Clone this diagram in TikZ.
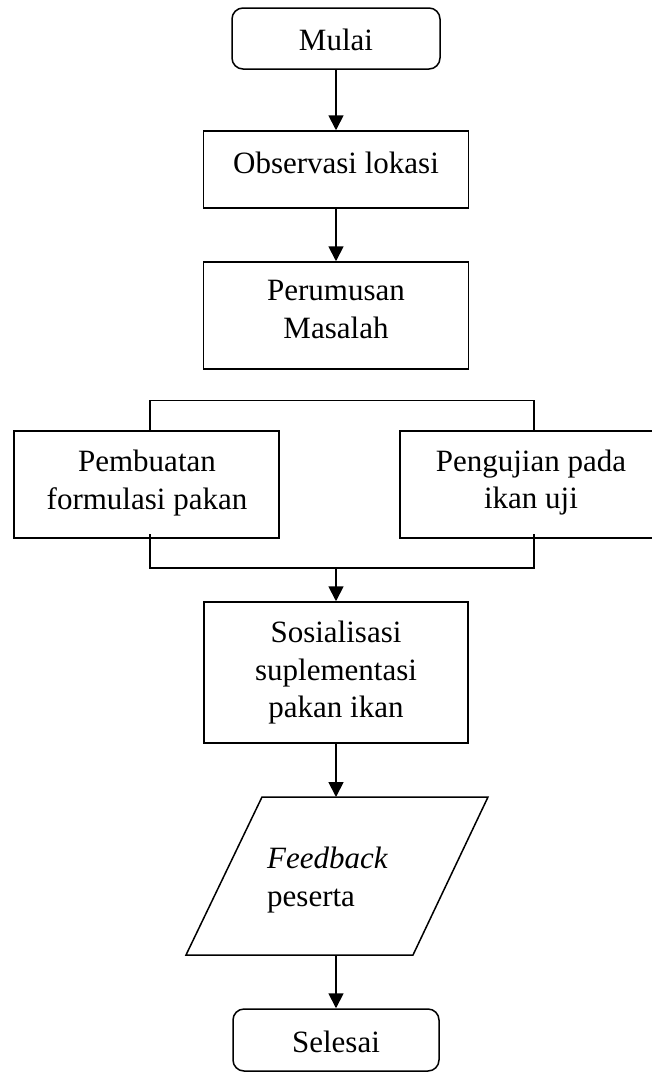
\documentclass[tikz,border=0pt]{standalone}
\usepackage{fontspec}
\setmainfont{Liberation Serif}
\usetikzlibrary{arrows.meta}
\begin{document}
\begin{tikzpicture}[x=1pt,y=-1pt,
  box/.style={draw, line width=1.5pt, inner sep=0pt, minimum width=265pt},
  term/.style={draw, line width=1.5pt, inner sep=0pt, rounded corners=11pt},
  txt/.style={anchor=base, inner sep=0pt, font=\fontsize{31}{38}\selectfont},
  arr/.style={line width=1.8pt, -{Triangle[width=15pt,length=15pt]}},
  link/.style={line width=1.5pt}]
\useasboundingbox (0,0) rectangle (652,1074);
% shapes
\node[term, minimum width=208pt, minimum height=61pt] (mulai) at (336,38.5) {};
\node[box, minimum height=77pt] (obs) at (336,169.5) {};
\node[box, minimum height=107pt] (rum) at (336,315.5) {};
\node[box, minimum height=107pt] (pemb) at (146.5,484.5) {};
\node[box, minimum height=107pt] (peng) at (532.5,484.5) {};
\node[box, minimum width=264pt, minimum height=141pt] (sos) at (336,672.5) {};
\coordinate (fbtop) at (336,797);
\coordinate (fbbot) at (336,955);
\draw[line width=1.5pt, line join=miter] (262,797) -- (488,797) -- (413,955) -- (186,955) -- cycle;
\node[term, minimum width=206pt, minimum height=62pt] (selesai) at (336,1040) {};
% texts
\node[txt] (tmulai) at (336,50) {Mulai};
\node[txt] (tobs) at (336,173) {Observasi lokasi};
\node[txt] (trum1) at (336,300) {Perumusan};
\node[txt] (trum2) at (336,338) {Masalah};
\node[txt] (tpemb1) at (147,471) {Pembuatan};
\node[txt] (tpemb2) at (147,509) {formulasi pakan};
\node[txt] (tpeng1) at (531,471) {Pengujian pada};
\node[txt] (tpeng2) at (531,508) {ikan uji};
\node[txt] (tsos1) at (336,642) {Sosialisasi};
\node[txt] (tsos2) at (336,680) {suplementasi};
\node[txt] (tsos3) at (336,717) {pakan ikan};
\node[txt, anchor=base west] (tfb1) at (267,868) {\itshape Feedback};
\node[txt, anchor=base west] (tfb2) at (267,906) {peserta};
\node[txt] (tsel) at (336,1052) {Selesai};
% connectors
\draw[arr] (mulai.south) -- (obs.north);
\draw[arr] (obs.south) -- (rum.north);
\coordinate (tl) at (150,400.5);
\coordinate (tr) at (534,400.5);
\draw[link] (tl |- pemb.north) -- (tl) -- (tr) -- (tr |- peng.north);
\coordinate (bl) at (150,568);
\coordinate (br) at (534,568);
\coordinate (bm) at (336,568);
\draw[link] (150,534) -- (bl) -- (br) -- (534,534);
\draw[arr] (bm) -- (sos.north);
\draw[arr] (sos.south) -- (fbtop);
\draw[arr] (fbbot) -- (selesai.north);
\end{tikzpicture}
\end{document}
